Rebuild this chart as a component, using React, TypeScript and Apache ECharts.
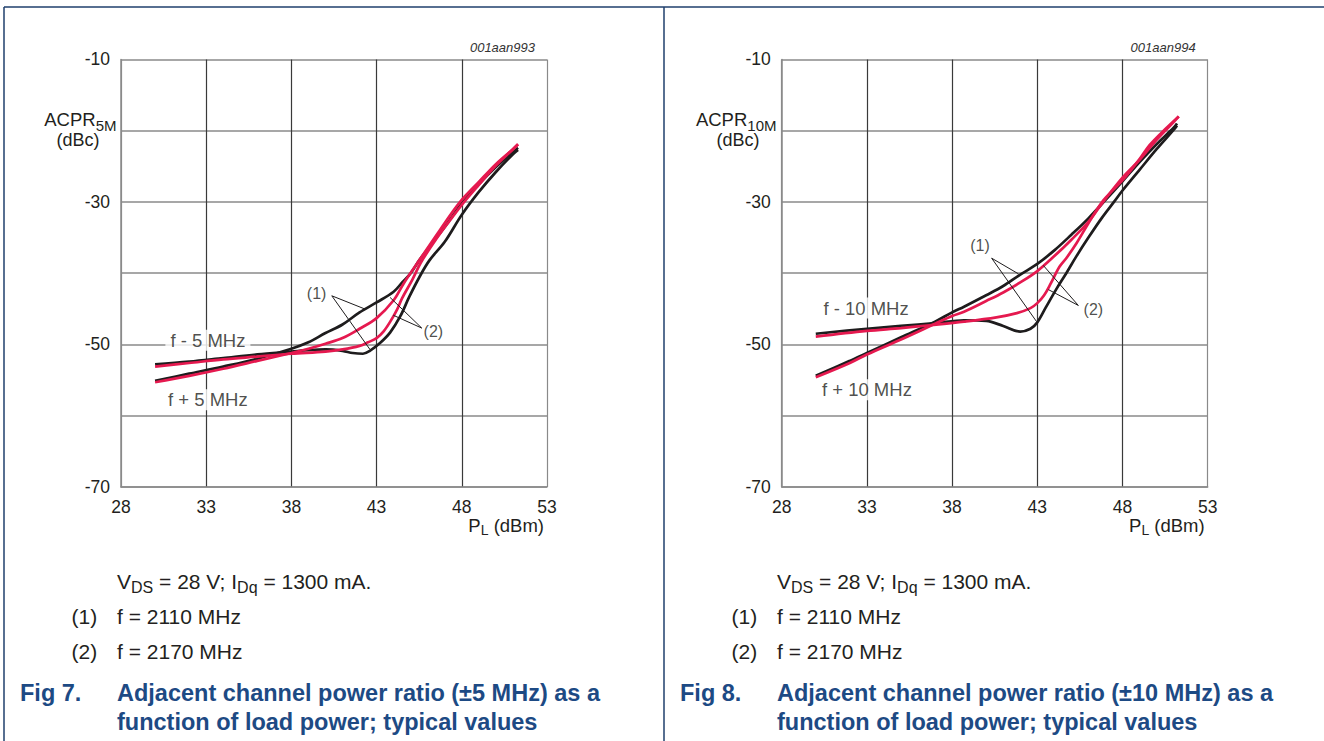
import React, { useEffect, useRef } from "react";
import * as echarts from "echarts";

const FONT = "'Liberation Sans', Arial, Helvetica, sans-serif";
const NAVY = "#1d4a84";
const FRAME = "#1f3f6c";
const BLACK = "#1e1c1d";
const RED = "#e5194f";

// axes
const xMin = 28;
const xMax = 53;
const xStep = 5;
const yMin = -70;
const yMax = -10;
const yStep = 10;
const xTickLabels = ["28", "33", "38", "43", "48", "53"];
const yTickLabels = ["-10", "-30", "-50", "-70"];

// Fig 7: ACPR 5 MHz  [PL (dBm), ACPR (dBc)]
const fig7_fMinus_2110: number[][] = [
  [30, -52.8], [32, -52.4], [34, -51.9], [36, -51.4], [38, -51.0], [39, -50.8], [40, -50.7],
  [41, -50.9], [41.6, -51.2], [42.2, -51.3], [42.6, -50.9], [43.2, -49.8], [43.8, -48.3],
  [44.4, -46.0], [44.9, -43.4], [45.5, -40.6], [46.1, -38.2], [47, -35.6], [48, -31.8],
  [49, -28.6], [50, -25.8], [51, -23.3], [51.3, -22.7],
];
const fig7_fMinus_2170: number[][] = [
  [30, -53.1], [32, -52.6], [34, -52.1], [36, -51.7], [38, -51.3], [40, -51.0], [41, -50.7],
  [42, -50.2], [42.5, -49.7], [43, -49.1], [43.4, -48.2], [43.8, -46.8], [44.2, -45.1],
  [44.5, -43.5], [45.1, -40.9], [45.6, -38.5], [46.5, -35.2], [47.3, -32.6], [48, -30.4],
  [49, -27.6], [50, -24.9], [51, -22.6], [51.3, -21.9],
];
const fig7_fPlus_2110: number[][] = [
  [30, -55.1], [32, -54.1], [34, -53.1], [36, -52.0], [38, -50.6], [39, -49.7], [40, -48.4],
  [41, -47.2], [42, -45.5], [43, -44.1], [44, -42.6], [44.5, -41.3], [45, -40.0], [45.5, -38.2],
  [46, -36.6], [47, -33.5], [48, -30.2], [49, -27.5], [50, -25.1], [51, -23.0], [51.3, -22.4],
];
const fig7_fPlus_2170: number[][] = [
  [30, -55.3], [32, -54.4], [34, -53.4], [36, -52.3], [38, -51.2], [39, -50.6], [40, -49.9],
  [41, -49.1], [42, -47.8], [43, -46.3], [44, -43.8], [44.6, -41.4], [45.5, -38.2],
  [46.7, -34.0], [47.9, -30.0], [49, -27.2], [50, -24.7], [51, -22.6], [51.3, -21.9],
];

// Fig 8: ACPR 10 MHz
const fig8_fMinus_2110: number[][] = [
  [30, -48.5], [33, -47.8], [35, -47.4], [37, -47.0], [38.7, -46.6], [40, -46.7], [41, -47.4],
  [42, -48.2], [42.6, -47.8], [43, -46.9], [43.5, -44.8], [44.1, -42.3], [44.7, -40.0],
  [45.3, -37.6], [46, -35.0], [46.8, -32.2], [47.5, -30.0], [48, -28.4], [49, -25.5],
  [50, -22.6], [51, -19.9], [51.2, -19.3],
];
const fig8_fMinus_2170: number[][] = [
  [30, -48.9], [33, -48.1], [35, -47.7], [36.7, -47.3], [38.7, -46.8], [40.6, -46.2],
  [41.8, -45.6], [42.6, -44.9], [43, -44.2], [43.4, -43.1], [43.8, -41.4], [44.3, -39.1],
  [44.7, -37.9], [45.3, -35.8], [46, -33.0], [46.8, -30.0], [47.5, -28.2], [48.2, -26.4],
  [49, -24.0], [49.6, -22.0], [50.5, -19.8], [51.3, -18.0],
];
const fig8_fPlus_2110: number[][] = [
  [30, -54.4], [32, -52.3], [33, -51.2], [35, -49.0], [37, -46.8], [38, -45.5], [38.7, -44.7],
  [40, -43.1], [41, -41.8], [42, -40.2], [43, -38.7], [44, -36.8], [45, -34.6], [46, -32.3],
  [46.9, -30.0], [48, -27.1], [49, -24.4], [50, -21.9], [51, -19.6], [51.2, -19.0],
];
const fig8_fPlus_2170: number[][] = [
  [30, -54.6], [32, -52.6], [33, -51.4], [35, -49.3], [37, -47.1], [38, -46.0], [38.7, -45.4],
  [40, -43.9], [41, -42.7], [42, -41.3], [43, -39.7], [44, -37.6], [45, -35.3], [46, -32.8],
  [46.8, -30.2], [48, -26.6], [49, -24.1], [50, -21.3], [51, -18.8], [51.3, -18.0],
];

// annotation leader lines (data coordinates)
const fig7Leaders: number[][][] = [
  [[40.37, -43.17], [42.32, -45.03]],
  [[40.37, -43.17], [42.61, -50.7]],
  [[45.65, -47.7], [43.79, -43.4]],
  [[45.65, -47.7], [43.98, -45.9]],
];
const fig8Leaders: number[][][] = [
  [[40.32, -37.89], [41.9, -40.1]],
  [[40.32, -37.89], [42.96, -46.8]],
  [[45.41, -44.53], [43.35, -38.9]],
  [[45.41, -44.53], [43.65, -42.3]],
];

// curve labels anchored in data coordinates
const fig7Labels = [
  { text: "(1)", at: [39.48, -42.79], size: 16, bg: false },
  { text: "(2)", at: [46.33, -48.17], size: 16, bg: false },
  { text: "f - 5 MHz", at: [33.1, -49.4], size: 18.5, bg: true },
  { text: "f + 5 MHz", at: [33.1, -57.75], size: 18.5, bg: true },
];
const fig8Labels = [
  { text: "(1)", at: [39.64, -36.16], size: 16, bg: false },
  { text: "(2)", at: [46.29, -45.13], size: 16, bg: false },
  { text: "f - 10 MHz", at: [32.95, -44.9], size: 18.5, bg: true },
  { text: "f + 10 MHz", at: [33.0, -56.35], size: 18.5, bg: true },
];

const panels = [
  {
    code: "001aan993", sub: "5M", fig: "Fig 7.",
    title1: "Adjacent channel power ratio (\u00b15 MHz) as a",
    curves: [
      { data: fig7_fMinus_2110, color: BLACK },
      { data: fig7_fPlus_2110, color: BLACK },
      { data: fig7_fMinus_2170, color: RED },
      { data: fig7_fPlus_2170, color: RED },
    ],
    leaders: fig7Leaders, labels: fig7Labels,
  },
  {
    code: "001aan994", sub: "10M", fig: "Fig 8.",
    title1: "Adjacent channel power ratio (\u00b110 MHz) as a",
    curves: [
      { data: fig8_fMinus_2110, color: BLACK },
      { data: fig8_fPlus_2110, color: BLACK },
      { data: fig8_fMinus_2170, color: RED },
      { data: fig8_fPlus_2170, color: RED },
    ],
    leaders: fig8Leaders, labels: fig8Labels,
  },
];
const title2 = "function of load power; typical values";
const notes = ["f = 2110 MHz", "f = 2170 MHz"];

let measureCtx: CanvasRenderingContext2D | null = null;
function measure(text: string, size: number, weight = "normal") {
  if (!measureCtx) measureCtx = document.createElement("canvas").getContext("2d");
  if (!measureCtx) return text.length * size * 0.55;
  measureCtx.font = `${weight} ${size}px ${FONT}`;
  return measureCtx.measureText(text).width;
}

function txt(text: string, x: number, y: number, size: number, opts: any = {}) {
  const align = opts.align || "left";
  return {
    type: "text",
    x,
    y,
    silent: true,
    style: {
      text,
      fill: opts.color || "#231f20",
      fontSize: size,
      fontFamily: FONT,
      fontWeight: opts.weight || "normal",
      fontStyle: opts.italic ? "italic" : "normal",
      align,
      textAlign: align,
      verticalAlign: "middle",
      textVerticalAlign: "middle",
    },
  };
}

function run(parts: { t: string; size: number; dy?: number; weight?: string }[], x: number, y: number, color?: string) {
  const out: any[] = [];
  let cx = x;
  for (const p of parts) {
    out.push(txt(p.t, cx, y + (p.dy || 0), p.size, { color, weight: p.weight }));
    cx += measure(p.t, p.size, p.weight || "normal");
  }
  return out;
}

export default function App() {
  const ref = useRef<HTMLDivElement>(null);
  useEffect(() => {
    document.body.style.margin = "0";
    if (!ref.current) return;
    const chart = echarts.init(ref.current, undefined, { renderer: "svg" });

    const gridLeft = [121, 781.7];
    const gridTop = 59.4;
    const gridW = 426;
    const gridH = 427.6;

    const grids = gridLeft.map((l) => ({ left: l, top: gridTop, width: gridW, height: gridH, containLabel: false }));
    const xAxes = gridLeft.map((_, i) => ({
      gridIndex: i,
      type: "value",
      min: xMin,
      max: xMax,
      interval: xStep,
      axisLine: { show: true, lineStyle: { color: "#8a8a8a", width: 1.5 } },
      axisTick: { show: false },
      axisLabel: {
        fontSize: 17.5,
        color: "#231f20",
        fontFamily: FONT,
        margin: 11,
        formatter: (v: number) => (xTickLabels.includes(String(Math.round(v))) ? String(Math.round(v)) : ""),
      },
      splitLine: {
        show: true,
        lineStyle: { color: ["#8a8a8a", "#3a3a3a", "#3a3a3a", "#3a3a3a", "#3a3a3a", "#8a8a8a"], width: 1.2 },
      },
    }));
    const yAxes = gridLeft.map((_, i) => ({
      gridIndex: i,
      type: "value",
      min: yMin,
      max: yMax,
      interval: yStep,
      axisLine: { show: true, lineStyle: { color: "#8a8a8a", width: 1.5 } },
      axisTick: { show: false },
      axisLabel: {
        fontSize: 17.5,
        color: "#231f20",
        fontFamily: FONT,
        margin: 11,
        formatter: (v: number) => (yTickLabels.includes(String(Math.round(v))) ? String(Math.round(v)) : ""),
      },
      splitLine: { show: true, lineStyle: { color: "#8a8a8a", width: 1.6 } },
    }));

    const series: any[] = [];
    panels.forEach((p, i) => {
      p.curves.forEach((c) => {
        series.push({
          type: "line",
          xAxisIndex: i,
          yAxisIndex: i,
          data: c.data,
          symbol: "none",
          smooth: 0.35,
          silent: true,
          lineStyle: { color: c.color, width: 2.7 },
          z: c.color === RED ? 4 : 3,
        });
      });
      p.leaders.forEach((seg) => {
        series.push({
          type: "line",
          xAxisIndex: i,
          yAxisIndex: i,
          data: seg,
          symbol: "none",
          silent: true,
          lineStyle: { color: "#1e1c1d", width: 1 },
          z: 5,
        });
      });
      series.push({
        type: "scatter",
        xAxisIndex: i,
        yAxisIndex: i,
        symbolSize: 1,
        silent: true,
        itemStyle: { color: "rgba(0,0,0,0)" },
        z: 6,
        data: p.labels.map((l) => ({
          value: l.at,
          name: l.text,
          label: {
            show: true,
            position: "inside",
            formatter: "{b}",
            fontSize: l.size,
            fontFamily: FONT,
            color: "#231f20",
            backgroundColor: l.bg ? "#ffffff" : "transparent",
            padding: l.bg ? [1, 5, 1, 5] : 0,
          },
        })),
      });
    });

    const graphics: any[] = [];
    // frame
    graphics.push({ type: "line", silent: true, shape: { x1: 4, y1: 7, x2: 1324, y2: 7 }, style: { stroke: FRAME, lineWidth: 1.5 } });
    graphics.push({ type: "line", silent: true, shape: { x1: 4, y1: 7, x2: 4, y2: 741 }, style: { stroke: FRAME, lineWidth: 1.5 } });
    graphics.push({ type: "line", silent: true, shape: { x1: 664, y1: 7, x2: 664, y2: 741 }, style: { stroke: FRAME, lineWidth: 1.5 } });

    panels.forEach((p, i) => {
      const off = i === 0 ? 0 : 660;
      const gl = gridLeft[i];
      // code
      graphics.push(txt(p.code, gl + gridW - 12, 47, 13, { align: "right", italic: true, color: "#333" }));
      // y-axis title
      const subSize = 15;
      const subW = measure(p.sub, subSize);
      const labelRight = 116.5 + off;
      graphics.push(txt(p.sub, labelRight, 125.5, subSize, { align: "right" }));
      graphics.push(txt("ACPR", labelRight - subW, 119.5, 18.5, { align: "right" }));
      graphics.push(txt("(dBc)", 78 + off, 140, 18, { align: "center" }));
      // x-axis title
      const dbmW = measure(" (dBm)", 18.5);
      const lW = measure("L", 14);
      graphics.push(txt("(dBm)", gl + gridW - 3, 525, 18.5, { align: "right" }));
      graphics.push(txt("L", gl + gridW - 3 - dbmW - lW, 530, 14, { align: "left" }));
      graphics.push(txt("P", gl + gridW - 3 - dbmW - lW, 525, 18.5, { align: "right" }));
      // conditions
      graphics.push(
        ...run(
          [
            { t: "V", size: 21 },
            { t: "DS", size: 16, dy: 6 },
            { t: " = 28 V; I", size: 21 },
            { t: "Dq", size: 16, dy: 6 },
            { t: " = 1300 mA.", size: 21 },
          ],
          117 + off,
          581
        )
      );
      graphics.push(txt("(1)", 71.5 + off, 616.5, 21));
      graphics.push(txt(notes[0], 117 + off, 616.5, 21));
      graphics.push(txt("(2)", 71.5 + off, 651.5, 21));
      graphics.push(txt(notes[1], 117 + off, 651.5, 21));
      graphics.push(txt(p.fig, 20 + off, 693, 23.5, { weight: "bold", color: NAVY }));
      graphics.push(txt(p.title1, 117 + off, 693, 23.5, { weight: "bold", color: NAVY }));
      graphics.push(txt(title2, 117 + off, 721.5, 23.5, { weight: "bold", color: NAVY }));
    });

    chart.setOption({
      animation: false,
      backgroundColor: "#ffffff",
      textStyle: { fontFamily: FONT },
      grid: grids,
      xAxis: xAxes,
      yAxis: yAxes,
      series,
      graphic: graphics,
    });
    return () => chart.dispose();
  }, []);
  return <div ref={ref} style={{ width: 1324, height: 741 }} />;
}
